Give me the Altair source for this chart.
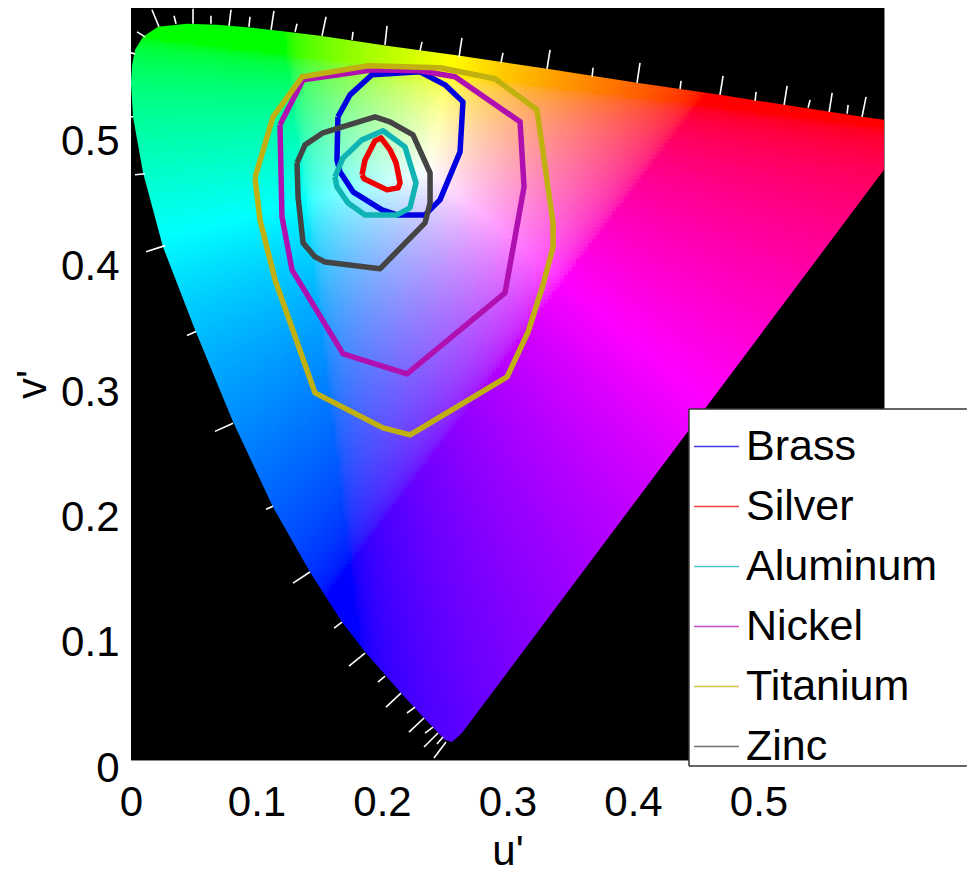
import numpy as np
import pandas as pd
import altair as alt

alt.data_transformers.disable_max_rows()

FONT = "Liberation Sans"

# Gamut outline (u', v')
left_u = [.2558, .2558, .2502, .2335, .2151, .1873, .1681, .1426, .1131, .0813, .0510, .0255, .0096, .0016, 0, 0, 0]
left_v = [0, .0144, .0160, .0335, .0535, .0854, .1101, .1500, .2019, .2698, .3432, .4094, .4685, .5132, .5403, .5539, .6]
top_u = [0, .0008, .0032, .0096, .0215, .0446, .0685, .0972, .1243, .1506, .2040, .2622, .3315, .4032, .4693, .5825, .6]
top_v = [.5403, .5539, .5666, .5770, .5850, .5874, .5866, .5842, .5810, .5778, .5698, .5619, .5515, .5403, .5307, .5132, .5108]
right_u = [.2558, .2558, .2637, .6, .6]
right_v = [0, .0144, .0215, .4709, .5108]

# Colour anchors: where pure red, green, blue and white sit
anchor_r = (.4507, .5229)
anchor_g = (.1250, .5625)
anchor_b = (.1754, .1579)
anchor_w = (.2380, .4700)
gamma = 1 / 2.2

# Legend box, in axis units
legend_u = [.4446, .6660]
legend_v = [-.0048, .2801]

# Wavelength tick marks: u tip, u foot, v tip, v foot
tick_rows = [
    (.0167, .0223, .5986, .5850), (.0343, .0359, .5938, .5874), (.0494, .0494, .5994, .5874),
    (.0637, .0637, .5938, .5874), (.0797, .0781, .5986, .5858), (.0948, .0940, .5930, .5850),
    (.1139, .1116, .5978, .5826), (.1323, .1307, .5874, .5810), (.1554, .1522, .5930, .5778),
    (.1769, .1761, .5810, .5746), (.2040, .2024, .5858, .5706), (.2319, .2303, .5730, .5658),
    (.2637, .2614, .5762, .5610), (.2964, .2948, .5642, .5563), (.3339, .3315, .5666, .5515),
    (.3682, .3674, .5523, .5451), (.4056, .4032, .5563, .5403), (.4383, .4375, .5419, .5355),
    (.4718, .4693, .5459, .5307), (.4981, .4973, .5331, .5259), (.5228, .5204, .5379, .5227),
    (.5411, .5395, .5267, .5204), (.5587, .5563, .5323, .5172), (.5714, .5706, .5227, .5156),
    (.5857, .5825, .5291, .5132), (.0048, .0112, .5810, .5770), (0, .0032, .5642, .5634),
    (0, .0016, .5132, .5132), (.0032, .0112, .4670, .4677), (.0120, .0271, .4056, .4104),
    (.0446, .0518, .3387, .3419), (.0669, .0813, .2622, .2686), (.1076, .1131, .2000, .2024),
    (.1291, .1426, .1411, .1500), (.1618, .1681, .1052, .1100), (.1737, .1865, .0749, .0853),
    (.1968, .2024, .0622, .0669), (.2032, .2151, .0422, .0534), (.2199, .2263, .0375, .0422),
    (.2215, .2335, .0223, .0335), (.2343, .2406, .0215, .0263), (.2335, .2446, .0104, .0215),
    (.2438, .2486, .0128, .0183), (.2414, .2510, .0016, .0144),
]

materials = ["Brass", "Silver", "Aluminum", "Nickel", "Titanium", "Zinc"]
material_colors = ["#0000e0", "#f00000", "#10b4b4", "#b010b0", "#c0b010", "#444444"]

brass_u = [.1649, .1745, .1920, .2303, .2502, .2645, .2622, .2462, .2343, .2120, .2000, .1769, .1665, .1641]
brass_v = [.5132, .5307, .5467, .5491, .5387, .5251, .4852, .4469, .4349, .4349, .4389, .4533, .4693, .4788]
silver_u = [.1841, .1857, .2040, .2128, .2144, .2112, .2064, .1992, .1944, .1865]
silver_v = [.4669, .4637, .4549, .4565, .4605, .4765, .4868, .4964, .4940, .4788]
aluminum_u = [.1625, .1689, .1841, .2008, .2183, .2271, .2223, .2120, .1865, .1729, .1641]
aluminum_v = [.4653, .4804, .4948, .5020, .4892, .4605, .4405, .4349, .4349, .4445, .4573]
nickel_u = [.1187, .1371, .1928, .2303, .2582, .3100, .3132, .2980, .2199, .1690, .1283, .1203]
nickel_v = [.5068, .5427, .5507, .5499, .5451, .5092, .4573, .3727, .3081, .3240, .3911, .4334]
titanium_u = [.0988, .1028, .1148, .1466, .2008, .2224, .2997, .3164, .3283, .3363, .3363, .3235, .2901, .2463, .1889, .1363, .1132]
titanium_v = [.4645, .4310, .3831, .2929, .2650, .2594, .3057, .3416, .3791, .4094, .4286, .5188, .5435, .5523, .5539, .5451, .5132]
zinc_u = [.1323, .1387, .1530, .1944, .2064, .2247, .2383, .2383, .2343, .1984, .1546, .1466, .1371, .1331]
zinc_v = [.4765, .4908, .5004, .5132, .5092, .4988, .4685, .4445, .4286, .3919, .3974, .4014, .4126, .4493]

series = {
    "Brass": (brass_u, brass_v), "Silver": (silver_u, silver_v), "Aluminum": (aluminum_u, aluminum_v),
    "Nickel": (nickel_u, nickel_v), "Titanium": (titanium_u, titanium_v), "Zinc": (zinc_u, zinc_v),
}

# ---- colour field over the gamut
def field():
    step = 0.0032
    us = np.arange(0, 0.6, step)
    vs = np.arange(0, 0.6, step)
    U, V = np.meshgrid(us + step / 2, vs + step / 2)
    keep = (U > np.interp(V, left_v, left_u) - 2 * step) & (V < np.interp(U, top_u, top_v) + 2 * step)
    keep &= U < np.interp(V, right_v[1:], right_u[1:]) + 2 * step
    keep &= V > left_v[1]
    U, V = U[keep], V[keep]
    M = np.array([[anchor_r[0], anchor_g[0], anchor_b[0]],
                  [anchor_r[1], anchor_g[1], anchor_b[1]],
                  [1, 1, 1]])
    inv = np.linalg.inv(M)
    white = inv @ np.array([anchor_w[0], anchor_w[1], 1])
    w = inv @ np.vstack([U, V, np.ones_like(U)])
    rgb = np.clip(w / white[:, None], 0, None)
    rgb = rgb / np.maximum(rgb.max(axis=0), 1e-9)
    rgb = np.round(255 * rgb ** gamma).astype(int)
    cols = ["#%02x%02x%02x" % tuple(c) for c in rgb.T]
    o = step * 0.62
    return pd.DataFrame({"a": np.round(U - o, 4), "b": np.round(U + o, 4),
                         "c": np.round(V - o, 4), "d": np.round(V + o, 4), "k": cols})

x_scale = alt.Scale(domain=[0, 0.6], nice=False, zero=False)
y_scale = alt.Scale(domain=[0, 0.6], nice=False, zero=False)

tick_values = [0, .1, .2, .3, .4, .5]
label_expr = "datum.value == 0 ? '0' : format(datum.value, '.1f')"
x_axis = alt.Axis(values=tick_values, labelFontSize=42, labelFont=FONT, labelColor="black",
                  tickSize=0, domain=False, grid=False, labelPadding=22, labelFlush=False,
                  labelExpr=label_expr, title="u'",
                  titleFontSize=42, titleFont=FONT, titleFontWeight="normal", titleColor="black",
                  titlePadding=8)
y_axis = alt.Axis(values=tick_values, labelFontSize=42, labelFont=FONT, labelColor="black",
                  tickSize=0, domain=False, grid=False, labelPadding=12, labelOffset=8, labelFlush=False,
                  labelExpr=label_expr, title="v'",
                  titleFontSize=42, titleFont=FONT, titleFontWeight="normal", titleColor="black",
                  titlePadding=6)
X = dict(scale=x_scale, axis=x_axis)
Y = dict(scale=y_scale, axis=y_axis)

cells = alt.Chart(field()).mark_rect(clip=True, strokeWidth=0).encode(
    x=alt.X("a:Q", **X), x2="b:Q",
    y=alt.Y("c:Q", **Y), y2="d:Q",
    color=alt.Color("k:N", scale=None),
)

mask_left = alt.Chart(pd.DataFrame({"u": left_u, "v": left_v, "e": [0.0] * len(left_u)})).mark_area(
    orient="horizontal", color="black", clip=True).encode(
    x=alt.X("e:Q", **X), x2="u:Q", y=alt.Y("v:Q", **Y))
mask_right = alt.Chart(pd.DataFrame({"u": right_u, "v": right_v, "e": [0.6] * len(right_u)})).mark_area(
    orient="horizontal", color="black", clip=True).encode(
    x=alt.X("u:Q", **X), x2="e:Q", y=alt.Y("v:Q", **Y))
mask_top = alt.Chart(pd.DataFrame({"u": top_u, "v": top_v, "e": [0.6] * len(top_u)})).mark_area(
    orient="vertical", color="black", clip=True).encode(
    x=alt.X("u:Q", **X), y=alt.Y("v:Q", **Y), y2="e:Q")

ticks = alt.Chart(pd.DataFrame(tick_rows, columns=["u1", "u2", "v1", "v2"])).mark_rule(
    color="white", strokeWidth=1.6, clip=True).encode(
    x=alt.X("u1:Q", **X), x2="u2:Q", y=alt.Y("v1:Q", **Y), y2="v2:Q")

rows = []
for name in materials:
    us, vs = series[name]
    for i, (a, b) in enumerate(zip(list(us) + [us[0]], list(vs) + [vs[0]])):
        rows.append({"Material": name, "u": a, "v": b, "i": i})

curves = alt.Chart(pd.DataFrame(rows)).mark_line(strokeWidth=5.5, strokeJoin="round", clip=True).encode(
    x=alt.X("u:Q", **X),
    y=alt.Y("v:Q", **Y),
    order="i:Q",
    color=alt.Color("Material:N", scale=alt.Scale(domain=materials, range=material_colors),
                    sort=materials,
                    legend=alt.Legend(orient="none", legendX=558, legendY=401, title=" ", titleFontSize=1,
                                      titlePadding=13, padding=0,
                                      symbolType="stroke", symbolSize=2025, symbolStrokeWidth=1.5,
                                      symbolOpacity=0.75, symbolOffset=4, labelLimit=400,
                                      labelFontSize=43, labelFont=FONT, labelColor="black", labelOffset=6,
                                      rowPadding=14)),
)

legend_box = alt.Chart(pd.DataFrame({"u1": [legend_u[0]], "u2": [legend_u[1]],
                                     "v1": [legend_v[0]], "v2": [legend_v[1]]})).mark_rect(
    fill="white", strokeWidth=0, clip=False).encode(
    x=alt.X("u1:Q", **X), x2="u2:Q", y=alt.Y("v1:Q", **Y), y2="v2:Q")

legend_edges = alt.Chart(pd.DataFrame({
    "u1": [legend_u[0], legend_u[0], legend_u[0]],
    "u2": [legend_u[1], legend_u[1], legend_u[0]],
    "v1": [legend_v[0], legend_v[1], legend_v[0]],
    "v2": [legend_v[0], legend_v[1], legend_v[1]],
})).mark_rule(color="#333333", strokeWidth=1.5, clip=False).encode(
    x=alt.X("u1:Q", **X), x2="u2:Q", y=alt.Y("v1:Q", **Y), y2="v2:Q")

chart = alt.layer(cells, mask_left, mask_right, mask_top, ticks, curves, legend_box, legend_edges).resolve_scale(color="independent").properties(
    width=753, height=752, padding={"left": 3, "top": 0, "right": 0, "bottom": 0},
    background="white",
).configure_view(fill="black", stroke="#888888", strokeWidth=1)

chart.save("out.html", embed_options={"renderer": "svg", "actions": False})
